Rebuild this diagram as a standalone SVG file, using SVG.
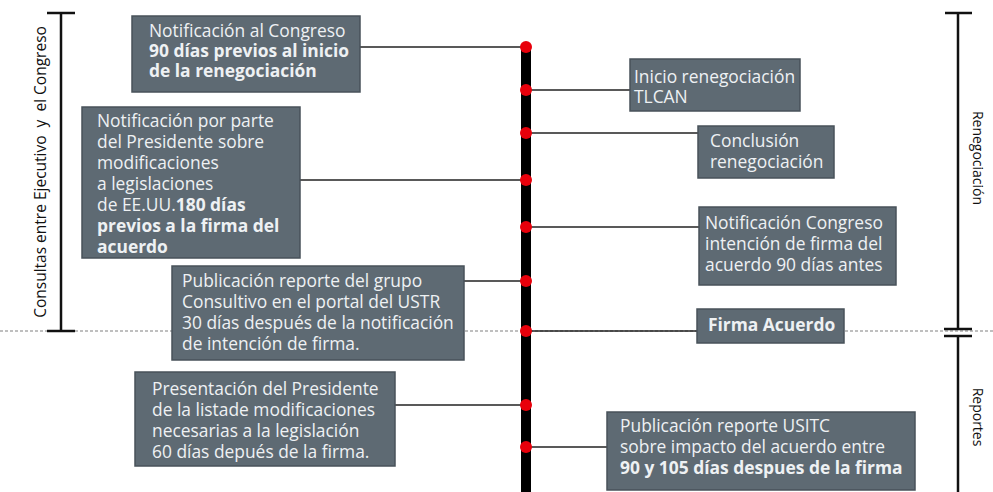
<svg xmlns="http://www.w3.org/2000/svg" width="993" height="492" viewBox="0 0 993 492">
<style>
.box{fill:#5e6a73;stroke:#48525a;stroke-width:1.5}
.t{font-family:"Open Sans","Noto Sans",sans-serif;font-size:17.4px;fill:#eef1f3}
.b{font-weight:bold}
.c{stroke:#222;stroke-width:1.5;fill:none}
.dot{fill:#e8000b}
.br{stroke:#111;stroke-width:2.5;fill:none}
.lab{font-family:"Open Sans","Noto Sans",sans-serif;font-size:14px;fill:#111}
.dash{stroke:#aaa;stroke-width:1.5;stroke-dasharray:3 2;fill:none}
</style>
<rect width="993" height="492" fill="#fff"/>
<g id="separator">
<line class="dash" x1="0" y1="331" x2="993" y2="331"/>
</g>
<g id="bracket-left">
<line class="br" x1="61" y1="13" x2="61" y2="331"/>
<line class="br" x1="47" y1="13" x2="75" y2="13"/>
<line class="br" x1="47" y1="331" x2="75" y2="331"/>
<text class="lab" style="font-size:15.5px" transform="translate(46,172) rotate(-90)" text-anchor="middle" xml:space="preserve">Consultas entre Ejecutivo  y  el Congreso</text>
</g>
<g id="bracket-right">
<line class="br" x1="958" y1="13" x2="958" y2="329"/>
<line class="br" x1="958" y1="336" x2="958" y2="492"/>
<line class="br" x1="945" y1="13" x2="972" y2="13"/>
<line class="br" x1="944" y1="329" x2="972" y2="329"/>
<line class="br" x1="944" y1="336" x2="972" y2="336"/>
<text class="lab" transform="translate(973,158) rotate(90)" text-anchor="middle">Renegociación</text>
<text class="lab" transform="translate(973,417) rotate(90)" text-anchor="middle">Reportes</text>
</g>
<g id="connectors">
<line class="c" x1="360" y1="47" x2="526" y2="47"/>
<line class="c" x1="300" y1="180" x2="526" y2="180"/>
<line class="c" x1="464" y1="281" x2="526" y2="281"/>
<line class="c" x1="395" y1="405" x2="526" y2="405"/>
<line class="c" x1="526" y1="90" x2="630" y2="90"/>
<line class="c" x1="526" y1="133" x2="698" y2="133"/>
<line class="c" x1="526" y1="227" x2="699" y2="227"/>
<line class="c" x1="526" y1="331" x2="697" y2="331"/>
<line class="c" x1="526" y1="447" x2="607" y2="447"/>
</g>
<g id="timeline">
<rect x="521" y="45" width="10" height="447" fill="#000"/>
<circle class="dot" cx="526" cy="47" r="6"/>
<circle class="dot" cx="526" cy="90" r="6"/>
<circle class="dot" cx="526" cy="133" r="6"/>
<circle class="dot" cx="526" cy="180" r="6"/>
<circle class="dot" cx="526" cy="227" r="6"/>
<circle class="dot" cx="526" cy="281" r="6"/>
<circle class="dot" cx="526" cy="331" r="6"/>
<circle class="dot" cx="526" cy="405" r="6"/>
<circle class="dot" cx="526" cy="447" r="6"/>
</g>
<g id="n1">
<rect class="box" x="132" y="16" width="228" height="76"/>
<text class="t" x="149" y="37">Notificación al Congreso</text>
<text class="t b" x="149" y="57">90 días previos al inicio</text>
<text class="t b" x="149" y="77">de la renegociación</text>
</g>
<g id="n2">
<rect class="box" x="82" y="107" width="218" height="151"/>
<text class="t" x="97" y="127">Notificación por parte</text>
<text class="t" x="97" y="148">del Presidente sobre</text>
<text class="t" x="97" y="169">modificaciones</text>
<text class="t" x="97" y="190">a legislaciones</text>
<text class="t" x="97" y="211">de EE.UU.<tspan class="b">180 días</tspan></text>
<text class="t b" x="97" y="232">previos a la firma del</text>
<text class="t b" x="97" y="253">acuerdo</text>
</g>
<g id="n3">
<rect class="box" x="172" y="266" width="292" height="94"/>
<text class="t" x="182" y="287">Publicación reporte del grupo</text>
<text class="t" x="182" y="308">Consultivo en el portal del USTR</text>
<text class="t" x="182" y="329">30 días después de la notificación</text>
<text class="t" x="182" y="350">de intención de firma.</text>
</g>
<g id="n4">
<rect class="box" x="135" y="372" width="260" height="94"/>
<text class="t" x="152" y="395">Presentación del Presidente</text>
<text class="t" x="152" y="416">de la listade modificaciones</text>
<text class="t" x="152" y="437">necesarias a la legislación</text>
<text class="t" x="152" y="458">60 días depués de la firma.</text>
</g>
<g id="n5">
<rect class="box" x="630" y="59" width="170" height="52"/>
<text class="t" x="634" y="83">Inicio renegociación</text>
<text class="t" x="634" y="103">TLCAN</text>
</g>
<g id="n6">
<rect class="box" x="698" y="126" width="136" height="52"/>
<text class="t" x="710" y="147">Conclusión</text>
<text class="t" x="710" y="168">renegociación</text>
</g>
<g id="n7">
<rect class="box" x="699" y="207" width="197" height="78"/>
<text class="t" x="705" y="229">Notificación Congreso</text>
<text class="t" x="705" y="250">intención de firma del</text>
<text class="t" x="705" y="271">acuerdo 90 días antes</text>
</g>
<g id="n8">
<rect class="box" x="697" y="309" width="147" height="34"/>
<text class="t b" x="708" y="331">Firma Acuerdo</text>
</g>
<g id="n9">
<rect class="box" x="607" y="412" width="308" height="78"/>
<text class="t" x="620" y="432">Publicación reporte USITC</text>
<text class="t" x="620" y="453">sobre impacto del acuerdo entre</text>
<text class="t b" x="620" y="474">90 y 105 días despues de la firma</text>
</g>
</svg>
